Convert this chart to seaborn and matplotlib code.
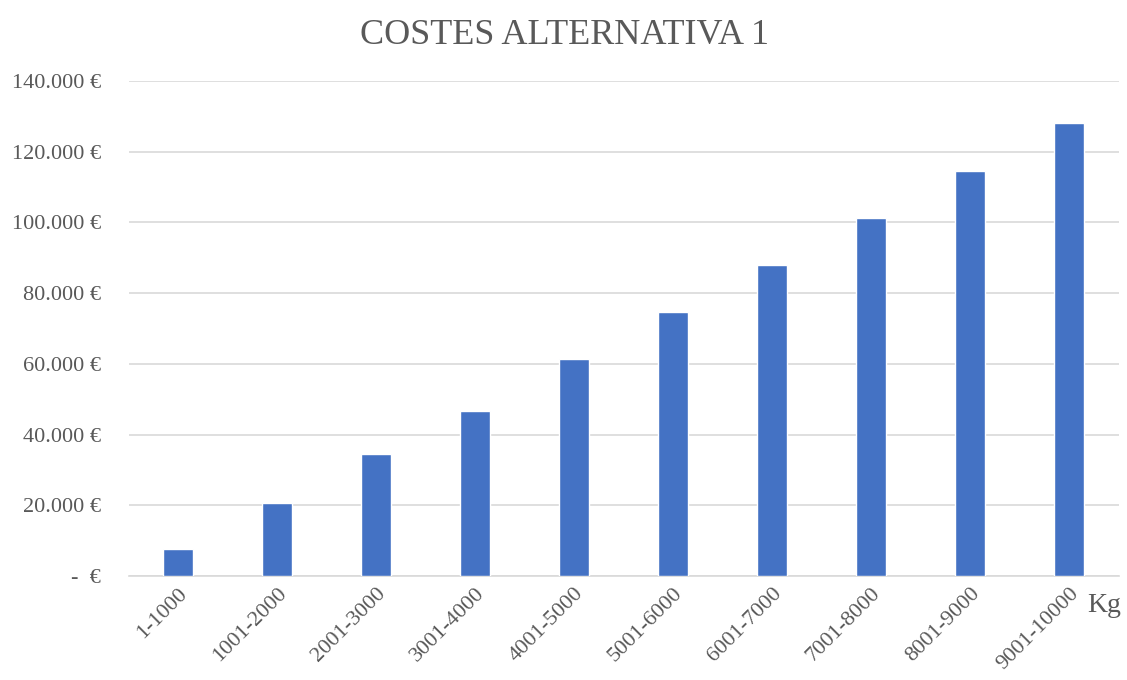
import matplotlib
matplotlib.use("Agg")
import matplotlib.pyplot as plt
import seaborn as sns
import pandas as pd

categories = ["1-1000", "1001-2000", "2001-3000", "3001-4000", "4001-5000",
              "5001-6000", "6001-7000", "7001-8000", "8001-9000", "9001-10000"]
costs = [7700, 20600, 34400, 46600, 61300, 74700, 88000, 101300, 114600, 128000]
yticks = [0, 20000, 40000, 60000, 80000, 100000, 120000, 140000]

sns.set_theme(style="white")
plt.rcParams['font.family'] = ['Liberation Serif', 'DejaVu Serif']

df = pd.DataFrame({"rango": categories, "coste": costs})

fig = plt.figure(figsize=(11.27, 6.8), dpi=100)
ax = fig.add_axes([128.5 / 1127, 1 - 576 / 680, (1118.5 - 128.5) / 1127, (576 - 81) / 680])

sns.barplot(data=df, x="rango", y="coste", color="#4472C4", width=0.31,
            saturation=1, ax=ax, zorder=3)

ax.set_ylim(0, 140000)
ax.set_xlim(-0.5, len(categories) - 0.5)
ax.set_yticks(yticks)

def fmt(v):
    if v == 0:
        return "-  €"
    return f"{v:,.0f} €".replace(",", ".")

ax.set_yticklabels([fmt(v) for v in yticks], fontsize=16, color="#595959")
ax.set_xticks(range(len(categories)))
ax.set_xticklabels(categories, rotation=45, ha="right", rotation_mode="anchor",
                   fontsize=16, color="#595959")
ax.tick_params(axis="x", length=0, pad=6)
ax.tick_params(axis="y", length=0, pad=20)
ax.yaxis.grid(True, color="#D9D9D9", linewidth=1.2, zorder=0)
ax.xaxis.grid(False)
for s in ["top", "right", "left"]:
    ax.spines[s].set_visible(False)
ax.spines["bottom"].set_color("#D9D9D9")
ax.spines["bottom"].set_linewidth(1.2)
ax.set_xlabel("")
ax.set_ylabel("")

fig.text(565 / 1127, 1 - 35 / 680, "COSTES ALTERNATIVA 1", ha="center", va="center",
         fontsize=26, color="#595959")
fig.text(1104 / 1127, 1 - 606 / 680, "Kg", ha="center", va="center",
         fontsize=20, color="#595959")

fig.savefig("out.png", dpi=100, facecolor="white")
